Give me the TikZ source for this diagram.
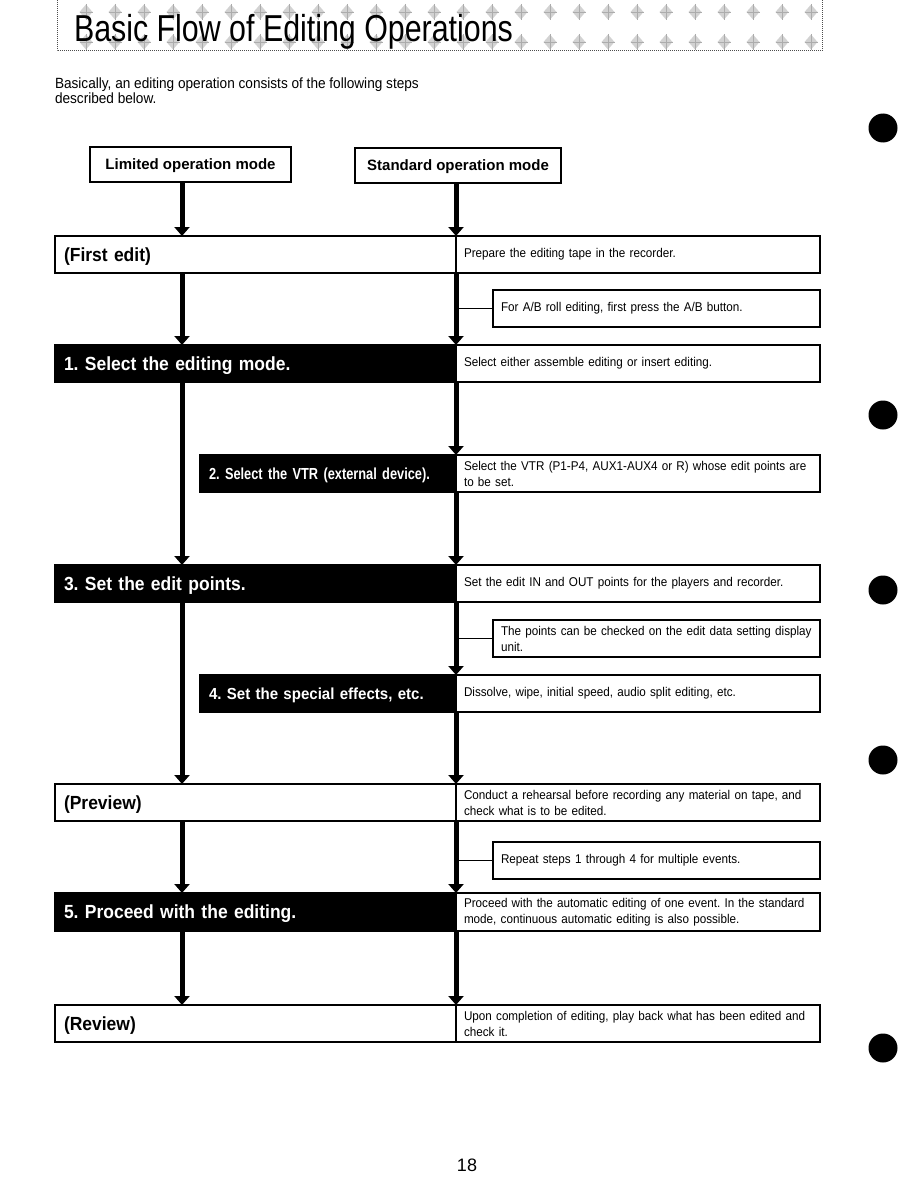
\documentclass[tikz,border=0pt]{standalone}
\usepackage{fontspec}
\setmainfont{Liberation Sans}
\newfontfamily\notefont{Liberation Sans}[FakeStretch=0.92]
\newfontfamily\condfont{Liberation Sans}[FakeStretch=0.80]
\newfontfamily\widecond{Liberation Sans}[FakeStretch=0.94]
\newfontfamily\titlefont{Liberation Sans}[FakeStretch=0.81]
\usetikzlibrary{
    arrows.meta,
    positioning,
    calc
}

\begin{document}
\frenchspacing
\begin{tikzpicture}[
        x=1pt, y=-1pt,
        every node/.style={inner sep=0pt, outer sep=0pt},
        rowbox/.style={
            rectangle,
            draw,
            line width=1.1pt,
            anchor=north west,
            minimum width=401pt,
            minimum height=37pt,
            text width=383pt,
            text depth=0pt,
            inner xsep=9pt,
            align=left,
            font=\notefont\bfseries\fontsize{19}{22}\selectfont
        },
        stepbox/.style={
            rowbox,
            fill=black,
            text=white
        },
        substep/.style={
            stepbox,
            minimum width=256pt,
            text width=238pt,
            font=\condfont\bfseries\fontsize{16}{19}\selectfont
        },
        desc/.style={
            rectangle,
            draw,
            line width=1.1pt,
            anchor=north west,
            minimum width=364pt,
            minimum height=37pt,
            text width=348pt,
            inner xsep=8pt,
            align=left,
            font=\notefont\fontsize{12.7}{16}\selectfont
        },
        note/.style={
            desc,
            minimum width=327pt,
            text width=311pt
        },
        modebox/.style={
            rectangle,
            draw,
            line width=1.1pt,
            anchor=north west,
            minimum height=35pt,
            text depth=0pt,
            font=\bfseries\fontsize{15}{18}\selectfont
        },
        flow/.style={
            -{Triangle[width=15pt,length=9pt]},
            line width=5pt
        },
        tie/.style={
            line width=0.8pt
        }
    ]

    \useasboundingbox (0,0) rectangle (918,1188);

    % title banner
    \foreach \x in {86,115,...,820} {
        \foreach \y in {12,42} {
            \fill[gray!35] (\x-6.5,\y) -- (\x,\y-7.5) -- (\x+6.5,\y)
                -- (\x,\y+7.5) -- cycle;
            \draw[gray!65, line width=0.8pt]
                (\x-6.5,\y) -- (\x+6.5,\y) (\x,\y-8) -- (\x,\y+8);
        }
    }
    \draw[gray!60!black, line width=1pt, densely dotted]
        (57,0) -- (57,51) -- (822,51) -- (822,0);
    \node[anchor=base west, font=\titlefont\fontsize{37.5}{40}\selectfont]
        (title) at (74,42) {Basic Flow of Editing Operations};

    \node[anchor=base west, font=\notefont\fontsize{14.8}{15}\selectfont,
          align=left]
        (intro) at (55,104)
        {Basically, an editing operation consists of the following steps\\
         described below.};

    % column lines
    \coordinate (colL) at (182,0);
    \coordinate (colR) at (456,0);

    % mode boxes
    \node[modebox, minimum width=201pt] (lim) at (90,147)
        {Limited operation mode};
    \node[modebox, minimum width=206pt] (std) at (355,148)
        {Standard operation mode};

    % rows
    \node[rowbox] (first) at (55,236) {(First edit)};
    \node[desc] (firstD) at (456,236)
        {Prepare the editing tape in the recorder.};

    \node[note] (noteAB) at (493,290)
        {For A/B roll editing, first press the A/B button.};

    \node[stepbox] (mode) at (55,345) {1. Select the editing mode.};
    \node[desc] (modeD) at (456,345)
        {Select either assemble editing or insert editing.};

    \node[substep] (vtr) at (200,455) {2. Select the VTR (external device).};
    \node[desc] (vtrD) at (456,455)
        {Select the VTR (P1-P4, AUX1-AUX4 or R) whose edit points are\\
         to be set.};

    \node[stepbox] (points) at (55,565) {3. Set the edit points.};
    \node[desc] (pointsD) at (456,565)
        {Set the edit IN and OUT points for the players and recorder.};

    \node[note] (noteChk) at (493,620)
        {The points can be checked on the edit data setting display\\
         unit.};

    \node[substep, font=\widecond\bfseries\fontsize{16}{19}\selectfont]
        (effects) at (200,675) {4. Set the special effects, etc.};
    \node[desc] (effectsD) at (456,675)
        {Dissolve, wipe, initial speed, audio split editing, etc.};

    \node[rowbox] (preview) at (55,784) {(Preview)};
    \node[desc] (previewD) at (456,784)
        {Conduct a rehearsal before recording any material on tape, and\\
         check what is to be edited.};

    \node[note] (noteRep) at (493,842)
        {Repeat steps 1 through 4 for multiple events.};

    \node[stepbox, minimum height=38pt] (proceed) at (55,893)
        {5. Proceed with the editing.};
    \node[desc, minimum height=38pt] (proceedD) at (456,893)
        {Proceed with the automatic editing of one event. In the standard\\
         mode, continuous automatic editing is also possible.};

    \node[rowbox] (review) at (55,1005) {(Review)};
    \node[desc] (reviewD) at (456,1005)
        {Upon completion of editing, play back what has been edited and\\
         check it.};

    % left column arrows
    \draw[flow] (lim.south -| colL) -- (first.north -| colL);
    \draw[flow] (first.south -| colL) -- (mode.north -| colL);
    \draw[flow] (mode.south -| colL) -- (points.north -| colL);
    \draw[flow] (points.south -| colL) -- (preview.north -| colL);
    \draw[flow] (preview.south -| colL) -- (proceed.north -| colL);
    \draw[flow] (proceed.south -| colL) -- (review.north -| colL);

    % right column arrows
    \draw[flow] (std.south -| colR) -- (firstD.north west);
    \draw[flow] (firstD.south west) -- (modeD.north west);
    \draw[flow] (modeD.south west) -- (vtrD.north west);
    \draw[flow] (vtrD.south west) -- (pointsD.north west);
    \draw[flow] (pointsD.south west) -- (effectsD.north west);
    \draw[flow] (effectsD.south west) -- (previewD.north west);
    \draw[flow] (previewD.south west) -- (proceedD.north west);
    \draw[flow] (proceedD.south west) -- (reviewD.north west);

    % side notes
    \draw[tie] (noteAB.west) -- (noteAB.west -| colR);
    \draw[tie] (noteChk.west) -- (noteChk.west -| colR);
    \draw[tie] (noteRep.west) -- (noteRep.west -| colR);

    % page marks
    \foreach \y in {128,415,590,760,1048} {
        \fill (883,\y) circle (14.5);
    }
    \node[font=\fontsize{18}{20}\selectfont] (page) at (467,1165) {18};

\end{tikzpicture}
\end{document}
